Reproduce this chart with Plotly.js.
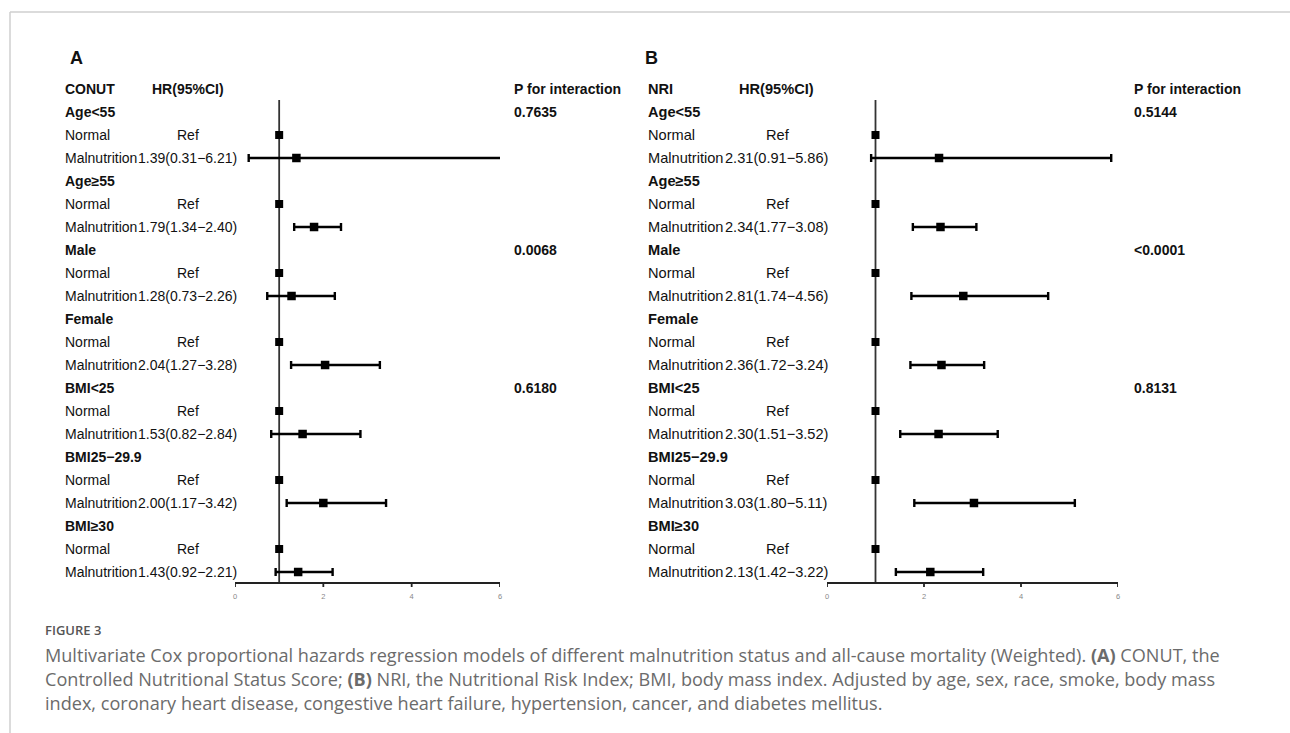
<!DOCTYPE html>
<html><head><meta charset="utf-8">
<script src="https://cdn.plot.ly/plotly-3.0.1.min.js"></script>
<style>html,body{margin:0;padding:0;background:#fff;}#chart{width:1290px;height:733px;}</style>
</head><body><div id="chart"></div>
<script>
// ---- data ----
const groups = ["Age<55","Age≥55","Male","Female","BMI<25","BMI25−29.9","BMI≥30"];
const conutHR = [1.39,1.79,1.28,2.04,1.53,2.00,1.43];
const conutLo = [0.31,1.34,0.73,1.27,0.82,1.17,0.92];
const conutHi = [6.21,2.40,2.26,3.28,2.84,3.42,2.21];
const conutP  = ["0.7635","","0.0068","","0.6180","",""];
const nriHR = [2.31,2.34,2.81,2.36,2.30,3.03,2.13];
const nriLo = [0.91,1.77,1.74,1.72,1.51,1.80,1.42];
const nriHi = [5.86,3.08,4.56,3.24,3.52,5.11,3.22];
const nriP  = ["0.5144","","<0.0001","","0.8131","",""];
const tickVals = [0,2,4,6];
const refHR = 1;

const W = 1290, H = 733;
const px = v => v / W;
const py = v => (H - v) / H;
const fmt = v => v.toFixed(2);

const axisPx = 583, domBottomPx = 590, topPx = 60, rowH = 23;
const rAxis = (axisPx - 89) / rowH;
const rBottom = (domBottomPx - 89) / rowH, rTop = (topPx - 89) / rowH;

const font = "Arial, 'Liberation Sans', sans-serif";
const annotations = [];
const shapes = [];
const traces = [];

function panel(cfg) {
  const {label, name, hr, lo, hi, p, xa, ya, fs, fsP, xLab, xName, xHR, xVal, xRef, xP} = cfg;
  const txt = (x, y, text, bold, size) => annotations.push({xref:'paper', yref:ya, x:px(x), y:y,
    text: bold ? '<b>'+text+'</b>' : text, showarrow:false, xanchor:'left', yanchor:'middle',
    font:{family:font, size:size || fs, color:'#111'}});
  annotations.push({xref:'paper', yref:'paper', x:px(xLab), y:py(58), text:'<b>'+label+'</b>', showarrow:false, xanchor:'left', yanchor:'middle', font:{family:font, size:18, color:'#111'}});
  txt(xName, 0, name, true);
  txt(xHR, 0, 'HR(95%CI)', true);
  txt(xP, 0, 'P for interaction', true, fsP);
  const nY = [], mY = [];
  groups.forEach((g, i) => {
    const rg = 1 + 3*i, rn = 2 + 3*i, rm = 3 + 3*i;
    nY.push(rn); mY.push(rm);
    txt(xName, rg, g, true);
    if (p[i]) txt(xP, rg, p[i], true, fsP);
    txt(xName, rn, 'Normal', false);
    txt(xRef, rn, 'Ref', false);
    txt(xName, rm, 'Malnutrition', false);
    txt(xVal, rm, fmt(hr[i])+'('+fmt(lo[i])+'−'+fmt(hi[i])+')', false);
  });
  // reference line at HR = 1
  shapes.push({type:'line', xref:xa, yref:ya, x0:refHR, x1:refHR, y0:0.48, y1:rAxis, line:{color:'#333', width:1.8}, layer:'below'});
  // axis baseline and tick marks, placed through the axis scale
  shapes.push({type:'line', xref:xa, yref:ya, x0:tickVals[0], x1:tickVals[tickVals.length-1], y0:rAxis, y1:rAxis, line:{color:'#222', width:2}});
  tickVals.forEach(t => shapes.push({type:'line', xref:xa, yref:ya, x0:t, x1:t, y0:rAxis, y1:rAxis + 4/rowH, line:{color:'#222', width:1.8}}));
  traces.push({type:'scatter', mode:'markers', xaxis:xa, yaxis:ya, x:groups.map(()=>refHR), y:nY,
    marker:{symbol:'square', size:8, color:'#000'}, hoverinfo:'skip', cliponaxis:false});
  traces.push({type:'scatter', mode:'markers', xaxis:xa, yaxis:ya, x:hr, y:mY,
    marker:{symbol:'square', size:8.5, color:'#000'},
    error_x:{type:'data', symmetric:false, array:hr.map((v,i)=>hi[i]-v), arrayminus:hr.map((v,i)=>v-lo[i]), color:'#000', thickness:2.4, width:4},
    hoverinfo:'skip', cliponaxis:false});
}

panel({label:'A', name:'CONUT', hr:conutHR, lo:conutLo, hi:conutHi, p:conutP, xa:'x', ya:'y', fs:14, fsP:14, xLab:68, xName:63, xHR:150, xVal:136, xRef:175, xP:512});
panel({label:'B', name:'NRI', hr:nriHR, lo:nriLo, hi:nriHi, p:nriP, xa:'x2', ya:'y', fs:14.6, fsP:14, xLab:643, xName:646, xHR:737, xVal:723, xRef:764, xP:1132});

// frame
shapes.push({type:'line', xref:'paper', yref:'paper', x0:px(10), x1:1, y0:py(12), y1:py(12), line:{color:'#cfcfcf', width:1.5}});
shapes.push({type:'line', xref:'paper', yref:'paper', x0:px(10), x1:px(10), y0:py(12), y1:0, line:{color:'#cfcfcf', width:1.5}});

// caption
const capFont = "'Open Sans', 'Noto Sans', sans-serif";
annotations.push({xref:'paper', yref:'paper', x:px(43), y:py(630), text:'FIGURE 3', showarrow:false, xanchor:'left', yanchor:'middle', font:{family:capFont, size:13, color:'#555', weight:600}});
const capLines = [
  'Multivariate Cox proportional hazards regression models of different malnutrition status and all-cause mortality (Weighted). <b>(A)</b> CONUT, the',
  'Controlled Nutritional Status Score; <b>(B)</b> NRI, the Nutritional Risk Index; BMI, body mass index. Adjusted by age, sex, race, smoke, body mass',
  'index, coronary heart disease, congestive heart failure, hypertension, cancer, and diabetes mellitus.'
];
const capY = [655, 679, 703];
capLines.forEach((t, i) => annotations.push({xref:'paper', yref:'paper', x:px(43), y:py(capY[i]), text:t, showarrow:false, xanchor:'left', yanchor:'middle', font:{family:capFont, size:18.1, color:'#6b6b6b'}}));

const axisCommon = {range:[0,6], tickvals:tickVals, ticktext:tickVals.map(String), showline:false,
  ticks:'', showgrid:false, zeroline:false, fixedrange:true, ticklabelstandoff:0,
  tickfont:{family:font, size:7.5, color:'#888'}, anchor:'y', side:'bottom'};

const layout = {
  width:W, height:H, margin:{l:0,r:0,t:0,b:0}, paper_bgcolor:'#fff', plot_bgcolor:'rgba(0,0,0,0)', showlegend:false,
  xaxis: Object.assign({}, axisCommon, {domain:[px(235), px(500)]}),
  xaxis2: Object.assign({}, axisCommon, {domain:[px(827), px(1118)]}),
  yaxis: {range:[rBottom, rTop], domain:[py(domBottomPx), py(topPx)], visible:false, fixedrange:true},
  annotations, shapes
};
Plotly.newPlot('chart', traces, layout, {staticPlot:true, displayModeBar:false});
</script></body></html>
